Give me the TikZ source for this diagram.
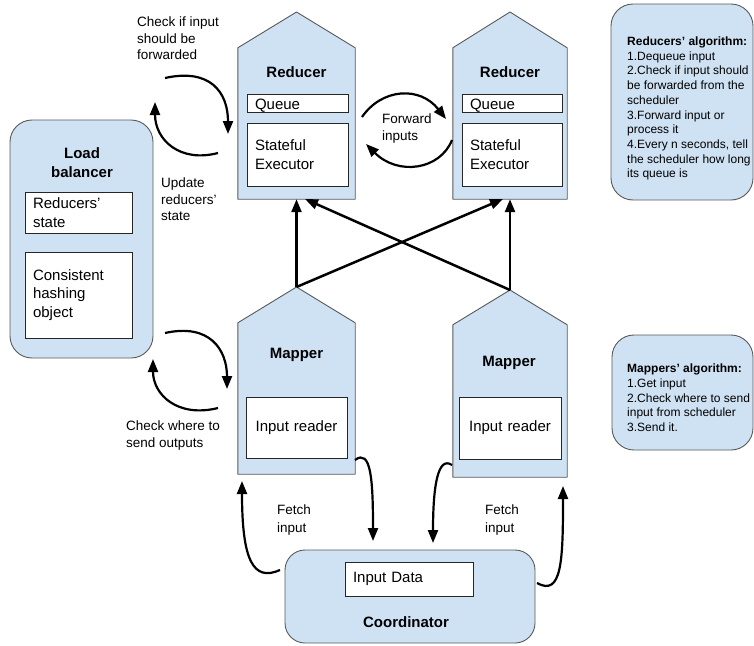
\documentclass[tikz,border=0pt]{standalone}
\usepackage{fontspec}
\setmainfont{Liberation Sans}
\usetikzlibrary{arrows.meta}
\definecolor{lblue}{HTML}{CFE2F3}
\definecolor{edgegray}{HTML}{595959}
\newcommand\boxfont{\fontsize{15}{18.5}\selectfont}
\newcommand\ttlfont{\fontsize{15}{19}\selectfont\bfseries}
\newcommand\labfont{\fontsize{13.5}{16.5}\selectfont}
\newcommand\algfont{\fontsize{12}{14.7}\selectfont}
\begin{document}
\begin{tikzpicture}[x=1pt,y=-1pt,
  shell/.style={draw=edgegray, line width=0.9pt, fill=lblue, line join=round},
  body/.style={draw=none, inner sep=0pt},
  ibox/.style={draw=black!85, line width=0.8pt, fill=white, inner xsep=8pt, inner ysep=0pt, align=left, font=\boxfont},
  qbox/.style={ibox, text height=14pt, text depth=2pt},
  cbox/.style={ibox, align=center},
  rbox/.style={draw=edgegray, line width=0.9pt, fill=lblue, rounded corners=22pt, inner sep=0pt},
  ttl/.style={font=\ttlfont, align=center, inner sep=0pt},
  lab/.style={font=\labfont, align=left, anchor=north west, inner sep=0pt},
  alg/.style={font=\algfont, align=left, anchor=north west, inner sep=0pt},
  carrow/.style={line width=2.2pt, -{Triangle[length=13pt,width=10pt]}},
  xarrow/.style={line width=2.5pt, -{Triangle[length=13pt,width=10pt]}}
]
\useasboundingbox (0,0) rectangle (754,645);

% ---------- Reducers ----------
\node[body, minimum width=117pt, minimum height=151pt] (r1) at (296.5,123.5) {};
\coordinate (r1top) at (296.5,12);
\draw[shell] (r1.south west) -- (r1.north west) -- (r1top) -- (r1.north east) -- (r1.south east) -- cycle;
\node[ttl] (r1t) at (296.5,72) {Reducer};
\node[qbox, text width=85pt, minimum height=18pt] (r1q) at (297.5,103) {Queue};
\node[ibox, text width=85pt, minimum height=63pt] (r1e) at (297.5,154.5) {Stateful\\Executor};

\node[body, minimum width=114pt, minimum height=151pt] (r2) at (510,123.5) {};
\coordinate (r2top) at (510,12);
\draw[shell] (r2.south west) -- (r2.north west) -- (r2top) -- (r2.north east) -- (r2.south east) -- cycle;
\node[ttl] (r2t) at (510,72) {Reducer};
\node[qbox, text width=84pt, minimum height=18pt] (r2q) at (512,103) {Queue};
\node[ibox, text width=84pt, minimum height=63pt] (r2e) at (512,154.5) {Stateful\\Executor};

% ---------- Mappers ----------
\node[body, minimum width=117pt, minimum height=151pt] (m1) at (296.5,398.5) {};
\coordinate (m1top) at (296.5,287);
\draw[shell] (m1.south west) -- (m1.north west) -- (m1top) -- (m1.north east) -- (m1.south east) -- cycle;
\node[ttl] (m1t) at (296.5,355) {Mapper};
\node[cbox, text width=85pt, minimum height=61pt] (m1r) at (296.5,427.5) {Input reader};

\node[body, minimum width=114pt, minimum height=152pt] (m2) at (510,401) {};
\coordinate (m2top) at (510,290);
\draw[shell] (m2.south west) -- (m2.north west) -- (m2top) -- (m2.north east) -- (m2.south east) -- cycle;
\node[ttl] (m2t) at (509,363) {Mapper};
\node[cbox, text width=86pt, minimum height=62pt] (m2r) at (510,428) {Input reader};

% ---------- Load balancer ----------
\node[rbox, minimum width=143pt, minimum height=238pt] (lb) at (81.5,239) {};
\node[ttl] (lbt) at (82,162.5) {Load\\balancer};
\node[ibox, text width=91pt, minimum height=41pt] (lbs) at (78.5,212.5) {Reducers'\\state};
\node[ibox, text width=91pt, minimum height=86pt] (lbh) at (78.5,295) {Consistent\\hashing\\object};

% ---------- Coordinator ----------
\node[rbox, rounded corners=20pt, minimum width=250pt, minimum height=93pt] (co) at (410,596.5) {};
\node[ibox, text width=112pt, minimum height=34pt] (cod) at (409,579) {Input Data};
\node[ttl] (cot) at (406,622) {Coordinator};

% ---------- Algorithm notes ----------
\node[rbox, minimum width=142pt, minimum height=196pt] (ra) at (682,102) {};
\node[alg] (rat) at (627,36.7) {\textbf{Reducers' algorithm:}\\1.Dequeue input\\2.Check if input should\\be forwarded from the\\scheduler\\3.Forward input or\\process it\\4.Every n seconds, tell\\the scheduler how long\\its queue is};
\node[rbox, minimum width=141pt, minimum height=115pt] (ma) at (682.5,392.5) {};
\node[alg] (mat) at (627,363.7) {\textbf{Mappers' algorithm:}\\1.Get input\\2.Check where to send\\input from scheduler\\3.Send it.};

% ---------- Mapper -> Reducer arrows ----------
\coordinate (r2in1) at (503,199);
\coordinate (r1in2) at (305,199);
\draw[xarrow] (m1top) -- (r1.south);
\draw[xarrow] (m1top) -- (r2in1);
\draw[xarrow] (m2top) -- (r2.south);
\draw[xarrow] (m2top) -- (r1in2);

% ---------- curved arrows ----------
\coordinate (a1s) at (165,78);   \coordinate (a1e) at (228,134);
\coordinate (a2s) at (218,153);  \coordinate (a2e) at (155,102);
\coordinate (a3s) at (165,333);  \coordinate (a3e) at (227,389);
\coordinate (a4s) at (218,408);  \coordinate (a4e) at (153,359);
\coordinate (a5s) at (362,117);  \coordinate (a5e) at (446,119);
\coordinate (a6s) at (452,140);  \coordinate (a6e) at (366,144);
\coordinate (a7s) at (280,570);  \coordinate (a7e) at (242,481);
\coordinate (a8s) at (355,460);  \coordinate (a8e) at (373,541);
\coordinate (a9s) at (452,465);  \coordinate (a9e) at (433,543);
\coordinate (a10s) at (537,583); \coordinate (a10e) at (563,486);

\draw[carrow] (a1s) .. controls (210,68) and (228,92) .. (a1e);
\draw[carrow] (a2s) .. controls (180,163) and (155,140) .. (a2e);
\draw[carrow] (a3s) .. controls (210,323) and (227,350) .. (a3e);
\draw[carrow] (a4s) .. controls (178,418) and (153,395) .. (a4e);
\draw[carrow] (a5s) .. controls (382,88) and (420,86) .. (a5e);
\draw[carrow] (a6s) .. controls (440,170) and (398,176) .. (a6e);
\draw[carrow] (a7s) .. controls (253,582) and (242,560) .. (a7e);
\draw[carrow] (a8s) .. controls (371,448) and (373,480) .. (a8e);
\draw[carrow] (a9s) .. controls (437,455) and (433,490) .. (a9e);
\draw[carrow] (a10s) .. controls (562,597) and (563,560) .. (a10e);

% ---------- labels ----------
\node[lab] (l1) at (137,17) {Check if input\\should be\\forwarded};
\node[lab] (l2) at (161,178) {Update\\reducers'\\state};
\node[lab] (l3) at (382,114) {Forward\\inputs};
\node[lab] (l4) at (126,421) {Check where to\\send outputs};
\node[lab, font=\fontsize{13.5}{18}\selectfont] (l5) at (277,505) {Fetch\\input};
\node[lab, font=\fontsize{13.5}{18}\selectfont] (l6) at (485,505) {Fetch\\input};
\end{tikzpicture}
\end{document}
